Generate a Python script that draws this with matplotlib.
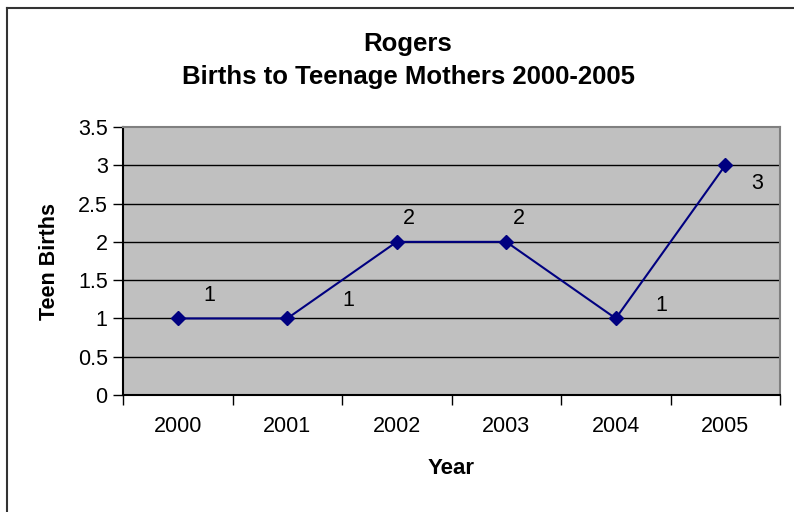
import matplotlib.pyplot as plt
from matplotlib.lines import Line2D
import numpy as np

years = ['2000', '2001', '2002', '2003', '2004', '2005']
births = [1, 1, 2, 2, 1, 3]
# label offsets in pixels (labels were nudged by hand in the original)
label_offsets = [(32, 23), (61, 18), (12, 23), (13, 23), (46, 13), (32, -18)]

plt.rcParams['font.family'] = ['Liberation Sans', 'DejaVu Sans']

fig = plt.figure(figsize=(7.94, 5.12), dpi=100)
ax = fig.add_axes([123 / 794, 1 - 395 / 512, 657 / 794, 268 / 512])
ax.set_facecolor('#c0c0c0')

x = np.arange(len(years))
ax.plot(x, births, color='#000080', lw=1.5, marker='D', markersize=7, zorder=3)
for xi, yi, (dx, dy) in zip(x, births, label_offsets):
    ax.annotate(str(yi), (xi, yi), xytext=(dx, dy), textcoords='offset pixels',
                ha='center', va='center', fontsize=15.5, color='black')

ax.set_xlim(-0.5, len(years) - 0.5)
ax.set_ylim(0, 3.5)
ax.set_yticks(np.arange(0, 3.51, 0.5))
ax.set_yticklabels(['0', '0.5', '1', '1.5', '2', '2.5', '3', '3.5'])
ax.set_xticks(x)
ax.set_xticklabels(years)
ax.set_xticks(np.arange(-0.5, len(years)), minor=True)
ax.tick_params(axis='x', which='major', length=0, pad=15, labelsize=15.5)
ax.tick_params(axis='x', which='minor', length=7, width=1, direction='out')
ax.tick_params(axis='y', length=7, width=1, direction='out', pad=4, labelsize=15.5)

for yv in np.arange(0.5, 3.01, 0.5):
    ax.axhline(yv, color='black', lw=1, zorder=1)

ax.spines['left'].set_color('black')
ax.spines['bottom'].set_color('black')
ax.spines['top'].set_color('#808080')
ax.spines['right'].set_color('#808080')
for s in ax.spines.values():
    s.set_linewidth(1.5)

ax.set_ylabel('Teen Births', fontsize=15.5, fontweight='bold', labelpad=13)
ax.set_xlabel('Year', fontsize=16, fontweight='bold', labelpad=15)

fig.text(408 / 794, 1 - 44 / 512, 'Rogers', ha='center', va='center',
         fontsize=18.5, fontweight='bold')
fig.text(408 / 794, 1 - 77 / 512, 'Births to Teenage Mothers 2000-2005', ha='center',
         va='center', fontsize=18.5, fontweight='bold')

# chart border (only top and left fall inside the picture)
fig.add_artist(Line2D([7 / 794, 7 / 794], [0, 1 - 8 / 512], transform=fig.transFigure,
                      color='#333333', lw=1.5))
fig.add_artist(Line2D([7 / 794, 1], [1 - 8 / 512, 1 - 8 / 512], transform=fig.transFigure,
                      color='#333333', lw=1.5))

fig.savefig('out.png', dpi=100)
